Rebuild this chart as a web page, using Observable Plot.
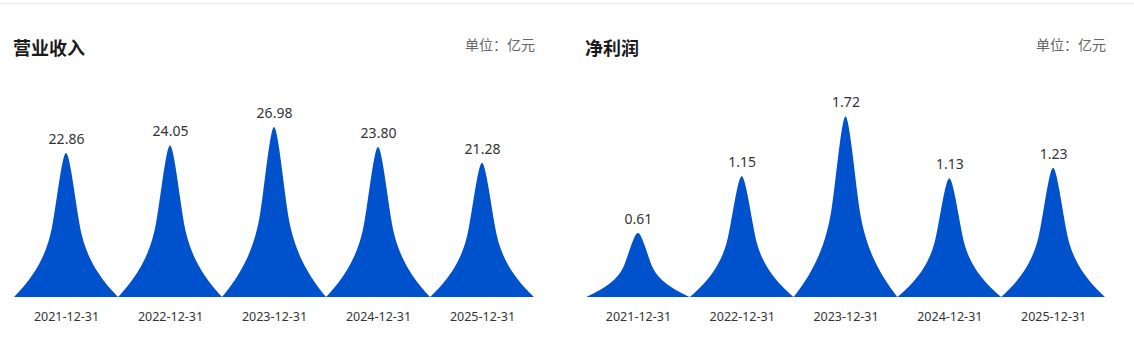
<!DOCTYPE html>
<html><head><meta charset="utf-8">
<script src="https://cdn.jsdelivr.net/npm/d3@7"></script>
<script src="https://cdn.jsdelivr.net/npm/@observablehq/plot@0.6"></script>
<style>
body{margin:0;background:#fff;font-family:"Noto Sans","Noto Sans CJK SC",sans-serif;}
#root{position:relative;width:1134px;height:344px;overflow:hidden;background:#fff;}
.topline{position:absolute;left:0;top:3px;width:1134px;height:1px;background:#e8e8e8;}
.panel{position:absolute;top:0;width:567px;height:344px;}
.panel svg{position:absolute;left:0;top:0;}
.title{position:absolute;top:35px;font-size:18px;font-weight:bold;color:#1a1a1a;font-family:"Noto Sans CJK SC",sans-serif;line-height:24px;z-index:2;}
.unit{position:absolute;top:34px;font-size:14px;color:#666;font-family:"Noto Sans CJK SC",sans-serif;line-height:20px;z-index:2;}
</style></head>
<body><div id="root"><div class="topline"></div></div>
<script>
const dates = ["2021-12-31","2022-12-31","2023-12-31","2024-12-31","2025-12-31"];
const revenue = [22.86, 24.05, 26.98, 23.80, 21.28];
const profit = [0.61, 1.15, 1.72, 1.13, 1.23];
const titles = ["营业收入", "净利润"];
const unitLabel = "单位：亿元";

// peak symbol template (like a pictorial "path://" symbol): half-profile as two cubic
// bezier segments from base corner (s=1,h=0) to tip (s=0,h=1); style only
const symbolPath = [
  [[1, 0], [0.7, 0.111], [0.42, 0.243], [0.29, 0.451]],
  [[0.29, 0.451], [0.2, 0.595], [0.08, 1], [0, 1]]
];
function bez(seg, t){
  const u = 1 - t, c = [u*u*u, 3*u*u*t, 3*u*t*t, t*t*t];
  return [0, 1].map(k => c[0]*seg[0][k] + c[1]*seg[1][k] + c[2]*seg[2][k] + c[3]*seg[3][k]);
}
function halfProfile(){
  const N = 40, out = [];
  symbolPath.forEach((seg, j) => { for (let k = (j ? 1 : 0); k <= N; k++) out.push(bez(seg, k/N)); });
  return out; // base -> tip
}
function peaks(values){
  const prof = halfProfile(), pts = [];
  values.forEach((v, i) => {
    prof.forEach(([s, h]) => pts.push({i, x: i + 0.5 - 0.5*s, y: v*h}));
    prof.slice(0, -1).reverse().forEach(([s, h]) => pts.push({i, x: i + 0.5 + 0.5*s, y: v*h}));
  });
  return pts;
}

function panel(left, values, title, yMax, marginTop, mL, mR){
  const div = document.createElement("div");
  div.className = "panel"; div.style.left = left + "px";
  const idx = values.map((v,i)=>i);
  const chart = Plot.plot({
    width: 567, height: 344,
    marginLeft: mL, marginRight: mR, marginTop, marginBottom: 47,
    style: {fontFamily: '"Noto Sans", sans-serif', fontSize: "12px", background: "transparent"},
    x: {domain: [0, values.length]},
    y: {domain: [0, yMax], axis: null},
    marks: [
      Plot.areaY(peaks(values), {x: "x", y: "y", z: "i", fill: "#0052cc", curve: "linear"}),
      Plot.text(idx, {x: i => i + 0.5, y: i => values[i], text: i => values[i].toFixed(2), dy: -14, fontSize: 14, fill: "#333"}),
      Plot.axisX(idx.map(i => i + 0.5), {tickSize: 0, tickPadding: 15, label: null, tickFormat: d => dates[Math.floor(d)], fontSize: 12.5, color: "#333"})
    ]
  });
  div.appendChild(chart);
  const t = document.createElement("div"); t.className = "title"; t.textContent = title; t.style.left = (mL - 1) + "px";
  const u = document.createElement("div"); u.className = "unit"; u.textContent = unitLabel; u.style.right = (mR - 1) + "px";
  div.appendChild(t); div.appendChild(u);
  document.getElementById("root").appendChild(div);
}
panel(0, revenue, titles[0], 30, 108, 14, 33);
panel(567, profit, titles[1], 2, 87, 19, 29);
</script></body></html>
